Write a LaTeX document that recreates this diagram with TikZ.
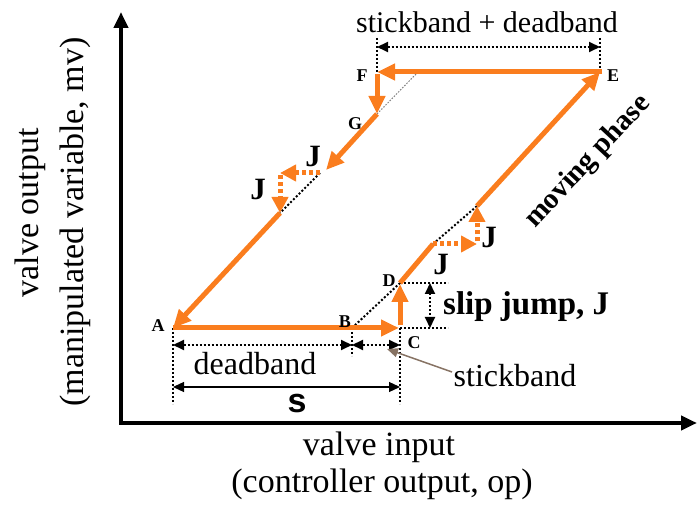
\documentclass[tikz,border=0pt]{standalone}
\usepackage{fontspec}
\setmainfont{Liberation Serif}
\newfontfamily\sansfont{Liberation Sans}
\usetikzlibrary{arrows.meta}
\definecolor{flow}{RGB}{250,125,30}
\definecolor{pointer}{RGB}{135,115,100}
\begin{document}
\begin{tikzpicture}[x=1pt,y=-1pt,
  axis/.style={line width=4pt,-{Triangle[length=16pt,width=14pt]}},
  flowline/.style={draw=flow,line width=5pt},
  flowarrow/.style={flowline,-{Triangle[length=18pt,width=16pt]}},
  jumparrow/.style={draw=flow,line width=5pt,dash pattern=on 4pt off 3pt,-{Triangle[length=16pt,width=16pt]}},
  guide/.style={line width=2pt,dash pattern=on 2pt off 2pt},
  thinguide/.style={gray,line width=1pt,dash pattern=on 1.5pt off 1.5pt},
  dimarrow/.style={guide,{Triangle[length=11pt,width=10pt]}-{Triangle[length=11pt,width=10pt]}},
  ptlabel/.style={font=\bfseries\fontsize{18}{18}\selectfont,inner sep=0pt},
  jlabel/.style={font=\bfseries\fontsize{31}{31}\selectfont,inner sep=0pt},
  dimlabel/.style={font=\fontsize{32}{32}\selectfont,inner sep=0pt},
  axislabel/.style={font=\fontsize{34}{34}\selectfont,inner sep=0pt}]
\useasboundingbox (0,0) rectangle (697,510);

% corner points of the hysteresis loop
\coordinate (O) at (121,423);
\coordinate (A) at (173,328);
\coordinate (B) at (352,328);
\coordinate (C) at (400,328);
\coordinate (D) at (400,283);
\coordinate (E) at (600,72);
\coordinate (F) at (377,72);
\coordinate (G) at (377,114);
% staircase on the rising branch
\coordinate (L1) at (433,244);
\coordinate (L2) at (477,244);
\coordinate (L3) at (477,206);
% staircase on the falling branch
\coordinate (U0) at (326,170);
\coordinate (U1) at (320,173);
\coordinate (U2) at (280,173);
\coordinate (U3) at (280,213);
% ends of the axes
\coordinate (Ytop) at (121,12);
\coordinate (Xend) at (697,423);

% axes
\draw[axis] ([yshift=-2pt]O) -- (Ytop);
\draw[axis] ([xshift=-2pt]O) -- (Xend);

% underlying slope lines
\draw[guide] (B) -- (D);
\draw[guide] (L1) -- (L3);
\draw[guide] (U1) -- (U3);
\draw[thinguide] (418,72) coordinate (Ftail) -- (G);

% dimension guides
\coordinate (Etop) at (600,38);
\coordinate (Ftop) at (377,38);
\draw[guide] (Ftop) -- (F);
\draw[guide] (Etop) -- (E);
\draw[dimarrow] (377,47) coordinate (sdL) -- (600,47) coordinate (sdR);

\draw[guide] (A) -- (173,404) coordinate (Abot);
\draw[guide] (B) -- (352,356) coordinate (Bbot);
\draw[guide] (C) -- (400,404) coordinate (Cbot);
\draw[dimarrow] (173,345) coordinate (dbL) -- (352,345) coordinate (dbR);
\draw[dimarrow] (352,345) coordinate (sbL) -- (400,345) coordinate (sbR);
\draw[line width=1.3pt,{Triangle[length=11pt,width=10pt]}-{Triangle[length=11pt,width=10pt]}]
  (173,387) coordinate (sL) -- (400,387) coordinate (sR);

\draw[guide] (D) -- (448,283) coordinate (Dr);
\draw[guide] (C) -- (448,328) coordinate (Cr);
\draw[dimarrow] (430,283) coordinate (jT) -- (430,328) coordinate (jB);

% pointer to the stickband
\draw[pointer,line width=1.5pt,-{Triangle[length=11pt,width=9pt]}]
  (452,372) coordinate (pS) -- (387,349) coordinate (pE);

% rising branch
\draw[flowarrow] (A) -- ([xshift=-1pt]C);
\draw[flowarrow] ([yshift=2.5pt]C) -- ([yshift=-1pt]D);
\draw[flowline] (D) -- (L1);
\draw[jumparrow] (L1) -- (L2);
\draw[jumparrow] ([yshift=2.5pt]L2) -- (L3);
\draw[flowarrow] (L3) -- (E);

% falling branch
\draw[flowarrow] ([xshift=2pt]E) -- (F);
\draw[flowarrow] ([yshift=-2.5pt]F) -- (G);
\draw[flowarrow] (G) -- (U0);
\draw[jumparrow] (U1) -- (U2);
\draw[jumparrow] ([yshift=-2.5pt]U2) -- (U3);
\draw[flowarrow] (U3) -- (A);

% point labels
\node[ptlabel] (lA) at (158,326) {A};
\node[ptlabel] (lB) at (345,322) {B};
\node[ptlabel] (lC) at (414,343) {C};
\node[ptlabel] (lD) at (389,281) {D};
\node[ptlabel] (lE) at (613,76) {E};
\node[ptlabel] (lF) at (362,76) {F};
\node[ptlabel] (lG) at (355,124) {G};

% jump labels
\node[jlabel] (j1) at (313,157) {J};
\node[jlabel] (j2) at (258,190) {J};
\node[jlabel] (j3) at (489,238) {J};
\node[jlabel] (j4) at (441,265) {J};
\node[jlabel,font=\bfseries\fontsize{33}{33}\selectfont,anchor=west] (slip) at (443,307) {slip jump, J};
\node[jlabel,font=\bfseries\fontsize{29}{29}\selectfont,rotate=47] (moving) at (588,162) {moving phase};

% band labels
\node[dimlabel,font=\fontsize{30}{30}\selectfont] (sdtext) at (487,22) {stickband + deadband};
\node[dimlabel] (dbtext) at (255,364) {deadband};
\node[dimlabel] (sbtext) at (515,376) {stickband};
\node[font=\sansfont\bfseries\fontsize{34}{34}\selectfont,inner sep=0pt] (stext) at (297,404) {s};

% axis labels
\node[axislabel] (xl1) at (379,447) {valve input};
\node[axislabel] (xl2) at (382,484) {(controller output, op)};
\node[axislabel,rotate=90] (yl1) at (30,213) {valve output};
\node[axislabel,rotate=90] (yl2) at (75,222) {(manipulated variable, mv)};
\end{tikzpicture}
\end{document}
